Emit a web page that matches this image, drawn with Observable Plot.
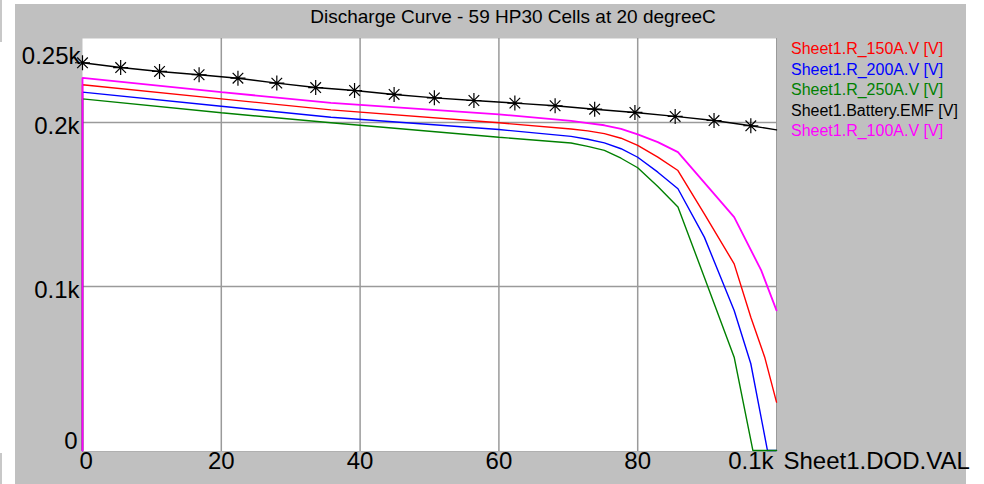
<!DOCTYPE html>
<html>
<head>
<meta charset="utf-8">
<script src="https://cdn.jsdelivr.net/npm/d3@7"></script>
<script src="https://cdn.jsdelivr.net/npm/@observablehq/plot@0.6"></script>
<style>
  html, body { margin: 0; padding: 0; background: #fff; }
  #wrap { position: relative; width: 984px; height: 484px; overflow: hidden; font-family: "Liberation Sans", Arial, sans-serif; }
  .panel { position: absolute; background: #c0c0c0; }
  #title { position: absolute; left: 213px; width: 600px; top: 6px; text-align: center; font-size: 19px; color: #000; white-space: nowrap; }
  #legend { position: absolute; left: 791px; top: 39px; font-size: 16px; line-height: 20.5px; white-space: nowrap; }
  #chart { position: absolute; left: 0; top: 0; }
</style>
</head>
<body>
<div id="wrap">
  <div class="panel" style="left:15px; top:4px; width:951px; height:480px;"></div>
  <div class="panel" style="left:0; top:0; width:2px; height:42px; background:#c8c8c8;"></div>
  <div class="panel" style="left:0; top:453px; width:2px; height:31px; background:#c8c8c8;"></div>
  <div id="chart"></div>
  <div id="title"></div>
  <div id="legend"></div>
</div>
<script>
// ---- Data ----
const title = "Discharge Curve - 59 HP30 Cells at 20 degreeC";
const xAxisLabel = "Sheet1.DOD.VAL";

const seriesNames = ["Sheet1.R_150A.V [V]", "Sheet1.R_200A.V [V]", "Sheet1.R_250A.V [V]", "Sheet1.Battery.EMF [V]", "Sheet1.R_100A.V [V]"];
const seriesColors = ["#ff0000", "#0000ff", "#008000", "#000000", "#ff00ff"];

// R_100A (magenta)
const dod100 = [0, 0, 20, 35.8, 60, 70.4, 72.8, 75.2, 77.6, 80, 82.9, 85.8, 90.6, 93.9, 97.8, 100];
const v100   = [0, 227.2, 218.5, 212, 205, 201, 199.6, 198.3, 196.1, 192.7, 188, 181.9, 158.5, 142.3, 109.8, 85.4];
// R_150A (red)
const dod150 = [0, 0, 20, 35.8, 60, 70.4, 72.8, 75.2, 77.6, 80, 82.9, 85.8, 89.6, 93.9, 96.3, 98.3, 100];
const v150   = [0, 223, 214.4, 207.7, 199.8, 196, 194.9, 193.2, 190.4, 186, 178.9, 170.7, 144.3, 113.8, 81.3, 56.9, 29.5];
// R_200A (blue)
const dod200 = [0, 0, 20, 35.8, 60, 70.4, 72.8, 75.2, 77.6, 80, 82.9, 85.8, 89.6, 93.9, 96.3, 98.7, 100];
const v200   = [0, 218.5, 209.9, 203.2, 195.7, 191.5, 189.8, 187.6, 184, 178.8, 169.7, 159.6, 130.1, 85.4, 52.9, 0, 0];
// R_250A (green)
const dod250 = [0, 0, 20, 35.8, 60, 70.4, 72.8, 75.2, 77.6, 80, 82.9, 85.8, 89.6, 93.9, 96.6, 100];
const v250   = [0, 214.4, 205.9, 199.8, 191, 187.5, 185.4, 183, 178.2, 172.4, 161, 148.4, 105.7, 56.9, 0, 0];
// Battery EMF (black, with markers)
const dodEmf = [0, 5.5, 11.1, 16.8, 22.4, 28.0, 33.6, 39.2, 44.9, 50.7, 56.4, 62.3, 68.1, 73.8, 79.6, 85.4, 91.0, 96.3, 100];
const vEmf   = [236.4, 233.5, 231.1, 229.1, 227, 224, 221.3, 219.5, 217.1, 215, 213.4, 211.8, 210.2, 208.1, 206.1, 203.7, 201.2, 198, 195.5];
const emfMarkerCount = 18; // markers on the first 18 samples

// Axis ticks
const xTicks = [0, 20, 40, 60, 80, 100];
const xTickLabels = ["0", "20", "40", "60", "80", "0.1k"];
const yTicks = [0, 100, 200, 250];
const yTickLabels = ["0", "0.1k", "0.2k", "0.25k"];

// ---- Build ----
const rows = (xs, vs) => xs.map((x, i) => ({x, v: vs[i]}));
const s150 = rows(dod150, v150), s200 = rows(dod200, v200), s250 = rows(dod250, v250);
const sEmf = rows(dodEmf, vEmf), s100 = rows(dod100, v100);
const emfMarkers = sEmf.slice(0, emfMarkerCount);

const asterisk = {
  draw(ctx, size) {
    const r = Math.sqrt(size / Math.PI);
    const d = r * Math.SQRT1_2;
    ctx.moveTo(-r, 0); ctx.lineTo(r, 0);
    ctx.moveTo(0, -r); ctx.lineTo(0, r);
    ctx.moveTo(-d, -d); ctx.lineTo(d, d);
    ctx.moveTo(-d, d); ctx.lineTo(d, -d);
  }
};

const xt = xTicks.map((t, i) => ({t, label: xTickLabels[i]}));
const yt = yTicks.map((t, i) => ({t, label: yTickLabels[i]}));
const font = "Liberation Sans, Arial, sans-serif";
const lineOpts = {x: "x", y: "v", strokeWidth: 1.4, strokeLinejoin: "miter"};

const chart = Plot.plot({
  width: 984,
  height: 484,
  marginLeft: 82,
  marginRight: 208,
  marginTop: 38,
  marginBottom: 33,
  style: {background: "none", overflow: "visible", fontFamily: font},
  x: {domain: [0, 100], axis: null},
  y: {domain: [-0.6, 251.2], axis: null},
  marks: [
    Plot.frame({fill: "white", stroke: "none"}),
    Plot.ruleX(xTicks.slice(1, -1), {stroke: "#9a9a9a", strokeWidth: 1.5}),
    Plot.ruleY(yTicks.filter(t => t > 0 && t < 250), {stroke: "#9a9a9a", strokeWidth: 1.5}),
    Plot.ruleX([100], {stroke: "#9a9a9a", strokeWidth: 1}),
    Plot.ruleY([-0.6], {stroke: "#b0b0b0", strokeWidth: 1}),
    Plot.line(s150, {...lineOpts, stroke: seriesColors[0]}),
    Plot.line(s200, {...lineOpts, stroke: seriesColors[1]}),
    Plot.line(s250, {...lineOpts, stroke: seriesColors[2]}),
    Plot.line(sEmf, {...lineOpts, stroke: seriesColors[3]}),
    Plot.dot(emfMarkers, {x: "x", y: "v", symbol: asterisk, r: 7.5, stroke: seriesColors[3], strokeWidth: 1.2, fill: "none"}),
    Plot.line(s100, {...lineOpts, stroke: seriesColors[4], strokeWidth: 1.8}),
    // x tick labels
    Plot.text(xt.slice(0, 1), {x: "t", text: "label", frameAnchor: "bottom", dy: 17, dx: -3, textAnchor: "start", fontSize: 24, fill: "#000"}),
    Plot.text(xt.slice(1, -1), {x: "t", text: "label", frameAnchor: "bottom", dy: 17, fontSize: 24, fill: "#000"}),
    Plot.text(xt.slice(-1), {x: "t", text: "label", frameAnchor: "bottom", dy: 17, dx: -3, textAnchor: "end", fontSize: 24, fill: "#000"}),
    Plot.text([xAxisLabel], {text: d => d, frameAnchor: "bottom-right", dy: 17, dx: 7, textAnchor: "start", fontSize: 24, fill: "#000"}),
    // y tick labels
    Plot.text(yt.slice(0, 1), {y: "t", text: "label", frameAnchor: "left", dx: -5, dy: -9, textAnchor: "end", fontSize: 24, fill: "#000"}),
    Plot.text(yt.slice(1, -1), {y: "t", text: "label", frameAnchor: "left", dx: -3, dy: 4, textAnchor: "end", fontSize: 24, fill: "#000"}),
    Plot.text(yt.slice(-1), {y: "t", text: "label", frameAnchor: "left", dx: -2, dy: 16, textAnchor: "end", fontSize: 24, fill: "#000"})
  ]
});
document.getElementById("chart").appendChild(chart);
document.getElementById("title").textContent = title;
const legend = document.getElementById("legend");
const legendOrder = [0, 1, 2, 3, 4];
legendOrder.forEach(i => {
  const d = document.createElement("div");
  d.textContent = seriesNames[i];
  d.style.color = seriesColors[i];
  legend.appendChild(d);
});
</script>
</body>
</html>
